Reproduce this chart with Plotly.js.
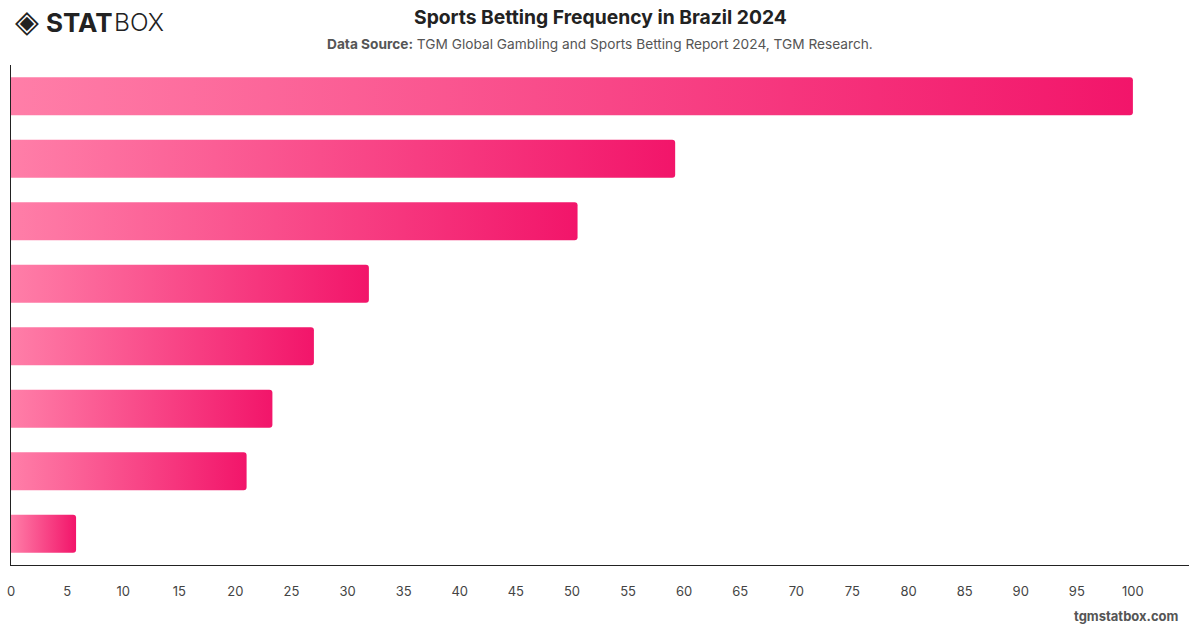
<!DOCTYPE html>
<html>
<head>
<meta charset="utf-8">
<script src="https://cdn.plot.ly/plotly-3.0.1.min.js"></script>
<style>
  html, body { margin: 0; padding: 0; background: #fff; }
  #chart { width: 1200px; height: 628px; }
</style>
</head>
<body>
<div id="chart"></div>
<script>
// Response groups (labels are hidden on the chart) and their values
const categories = ['G1', 'G2', 'G3', 'G4', 'G5', 'G6', 'G7', 'G8'];
const values = [100, 59.2, 50.5, 31.9, 27.0, 23.3, 21.0, 5.8];
const xTicks = [0, 5, 10, 15, 20, 25, 30, 35, 40, 45, 50, 55, 60, 65, 70, 75, 80, 85, 90, 95, 100];

const gradStart = '#FF7EA8';
const gradEnd = '#F2156A';

const trace = {
  type: 'bar',
  orientation: 'h',
  x: values,
  y: categories,
  marker: { color: gradEnd, line: { width: 0 } },
  hoverinfo: 'x',
  showlegend: false
};

const layout = {
  width: 1200,
  height: 628,
  margin: { l: 11, r: 11, t: 65, b: 63 },
  paper_bgcolor: '#ffffff',
  plot_bgcolor: '#ffffff',
  bargap: 0.39,
  barcornerradius: 3,
  font: { family: 'Inter, "Open Sans", sans-serif', color: '#444' },
  xaxis: {
    range: [0, 105],
    tickvals: xTicks,
    ticktext: xTicks.map(String),
    showgrid: false,
    zeroline: false,
    showline: true,
    linecolor: '#222',
    linewidth: 1,
    ticks: '',
    ticklabelstandoff: 14,
    tickfont: { size: 13, color: '#444' },
    fixedrange: true
  },
  yaxis: {
    autorange: 'reversed',
    showticklabels: false,
    showgrid: false,
    zeroline: false,
    showline: true,
    linecolor: '#222',
    linewidth: 1,
    ticks: '',
    fixedrange: true
  },
  annotations: [
    {
      text: '<b>Sports Betting Frequency in Brazil 2024</b>',
      xref: 'paper', yref: 'paper', x: 0.5, y: 1,
      xanchor: 'center', yanchor: 'middle',
      yshift: 48,
      showarrow: false,
      font: { size: 19.3, color: '#222', family: 'Inter, sans-serif' }
    },
    {
      text: '<b>Data Source:</b> TGM Global Gambling and Sports Betting Report 2024, TGM Research.',
      xref: 'paper', yref: 'paper', x: 0.5, y: 1,
      xanchor: 'center', yanchor: 'middle',
      yshift: 21,
      showarrow: false,
      font: { size: 13.7, color: '#555', family: 'Inter, sans-serif' }
    },
    {
      text: '◈',
      xref: 'paper', yref: 'paper', x: 0, y: 1,
      xanchor: 'left', yanchor: 'middle',
      xshift: 2, yshift: 44,
      showarrow: false,
      font: { size: 31, color: '#222', family: 'DejaVu Sans, sans-serif' }
    },
    {
      text: '<b>STAT</b>',
      xref: 'paper', yref: 'paper', x: 0, y: 1,
      xanchor: 'left', yanchor: 'middle',
      xshift: 33, yshift: 43,
      showarrow: false,
      font: { size: 26, color: '#222', family: 'Inter, sans-serif', weight: 900 }
    },
    {
      text: 'BOX',
      xref: 'paper', yref: 'paper', x: 0, y: 1,
      xanchor: 'left', yanchor: 'middle',
      xshift: 101, yshift: 43,
      showarrow: false,
      font: { size: 24.5, color: '#222', family: 'Inter, sans-serif', weight: 300 }
    },
    {
      text: '<b>tgmstatbox.com</b>',
      xref: 'paper', yref: 'paper', x: 1, y: 0,
      xanchor: 'right', yanchor: 'middle',
      xshift: -8, yshift: -51,
      showarrow: false,
      font: { size: 13, color: '#555', family: 'Inter, sans-serif' }
    }
  ]
};

// Horizontal gradient fill for each bar (light pink at the base, deep pink at the tip)
function applyGradient(gd) {
  const svg = gd.querySelector('svg.main-svg');
  if (!svg) return;
  let defs = svg.querySelector('defs');
  if (!defs) {
    defs = document.createElementNS('http://www.w3.org/2000/svg', 'defs');
    svg.insertBefore(defs, svg.firstChild);
  }
  if (!defs.querySelector('#barGrad')) {
    const ns = 'http://www.w3.org/2000/svg';
    const lg = document.createElementNS(ns, 'linearGradient');
    lg.setAttribute('id', 'barGrad');
    lg.setAttribute('x1', '0'); lg.setAttribute('y1', '0');
    lg.setAttribute('x2', '1'); lg.setAttribute('y2', '0');
    const s1 = document.createElementNS(ns, 'stop');
    s1.setAttribute('offset', '0');
    s1.setAttribute('stop-color', gradStart);
    const s2 = document.createElementNS(ns, 'stop');
    s2.setAttribute('offset', '1');
    s2.setAttribute('stop-color', gradEnd);
    lg.appendChild(s1); lg.appendChild(s2);
    defs.appendChild(lg);
  }
  gd.querySelectorAll('.barlayer .point path').forEach(p => {
    p.style.fill = 'url(#barGrad)';
    p.style.fillOpacity = '1';
  });
}

const gd = document.getElementById('chart');
Plotly.newPlot(gd, [trace], layout, { displayModeBar: false, staticPlot: true }).then(() => {
  applyGradient(gd);
  gd.on('plotly_afterplot', () => applyGradient(gd));
});
</script>
</body>
</html>
